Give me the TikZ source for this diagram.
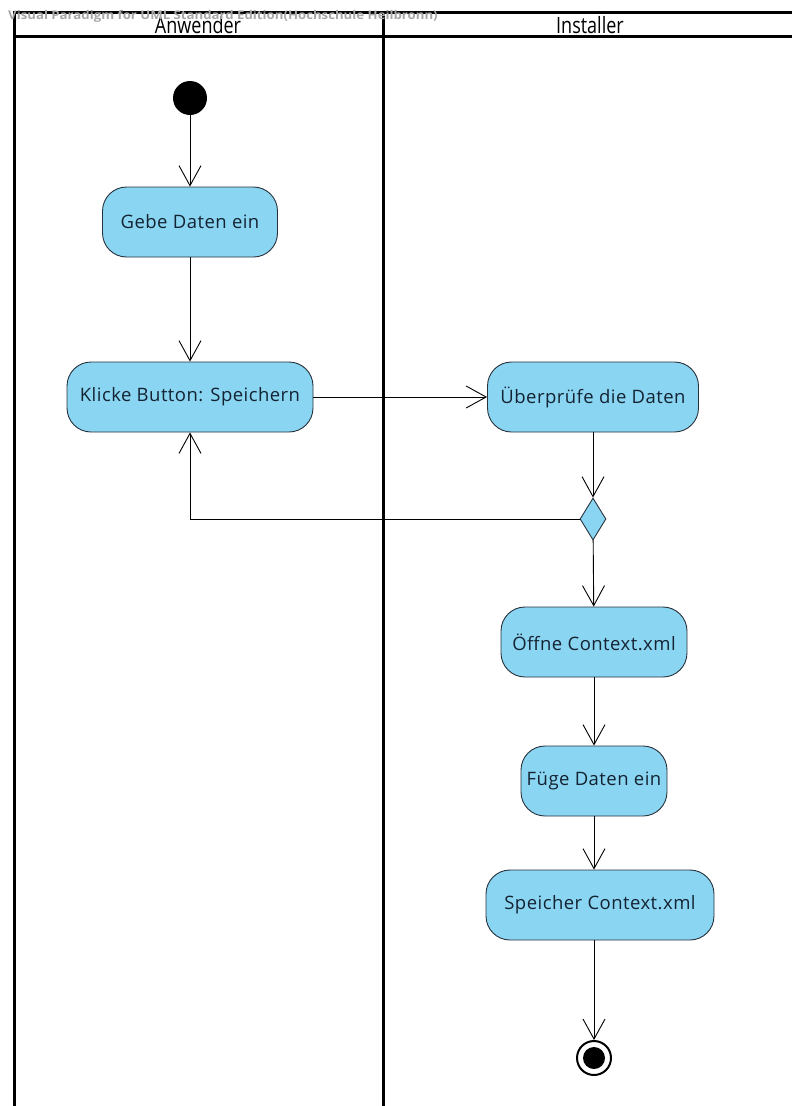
\documentclass[tikz,border=0pt]{standalone}
\usepackage{fontspec}
\setmainfont{Open Sans}
\newfontfamily\actfont[LetterSpace=2.5]{Open Sans}
\usetikzlibrary{arrows.meta,shapes.geometric}
\definecolor{actfill}{RGB}{138,213,242}
\definecolor{actline}{RGB}{40,50,60}
\definecolor{acttext}{RGB}{20,35,50}
\begin{document}
\begin{tikzpicture}[x=1pt,y=-1pt,
  lane/.style={line width=3pt,black},
  action/.style={rectangle,rounded corners=24pt,draw=actline,line width=0.9pt,
    fill=actfill,text=acttext,font=\actfont\fontsize{18.5}{22}\selectfont,inner sep=0pt,
    minimum height=70pt},
  flow/.style={line width=0.9pt,black,-{Straight Barb[length=20pt,width=22pt,line width=0.9pt]}},
  decision/.style={diamond,draw=actline,line width=0.9pt,fill=actfill,
    minimum width=26pt,minimum height=42pt,inner sep=0pt},
  lanetitle/.style={font=\fontsize{18}{22}\selectfont,inner sep=0pt}
]
\useasboundingbox (0,0) rectangle (792,1106);

% swimlanes
\draw[lane] (14,1106) -- (14,12) -- (792,12);
\draw[lane] (14,36) -- (792,36);
\draw[lane] (383,12) -- (383,1106);
\node[lanetitle] (lanea) at (198,25) {\scalebox{1}[1.25]{Anwender}};
\node[lanetitle] (laneb) at (590,25) {\scalebox{1}[1.25]{Installer}};
\node[anchor=west,inner sep=0pt,text=black!35,font=\bfseries\fontsize{12}{14}\selectfont] (wm) at (8,16)
  {\scalebox{1.1}[1]{Visual Paradigm for UML Standard Edition(Hochschule Heilbronn)}};

% nodes
\node[circle,fill=black,minimum size=34pt,inner sep=0pt] (start) at (190,98) {};
\node[action,minimum width=175pt] (gebe) at (190,222) {Gebe Daten ein};
\node[action,minimum width=246pt] (klicke) at (190,397) {Klicke Button: Speichern};
\node[action,minimum width=211pt] (pruefe) at (593,397) {Überprüfe die Daten};
\node[decision] (dec) at (593,519) {};
\node[action,minimum width=186pt] (oeffne) at (594,642) {Öffne Context.xml};
\node[action,minimum width=146pt] (fuege) at (594,781) {Füge Daten ein};
\node[action,minimum width=228pt] (speicher) at (600,905) {Speicher Context.xml};
\node[circle,draw=black,line width=2pt,fill=white,minimum size=34pt,inner sep=0pt] (final) at (594,1058) {};
\node[circle,fill=black,minimum size=22pt,inner sep=0pt] (finaldot) at (final) {};

% control flows
\draw[flow] (start) -- (gebe);
\draw[flow] (gebe) -- (klicke);
\draw[flow] (klicke) -- (pruefe);
\draw[flow] (pruefe) -- (dec);
\draw[flow] (dec.west) -| (klicke.south);
\draw[flow] (dec) -- (oeffne);
\draw[flow] (oeffne) -- (fuege);
\draw[flow] (fuege.south) -- (fuege.south |- speicher.north);
\draw[flow] (fuege.south |- speicher.south) -- (final);
\end{tikzpicture}
\end{document}
